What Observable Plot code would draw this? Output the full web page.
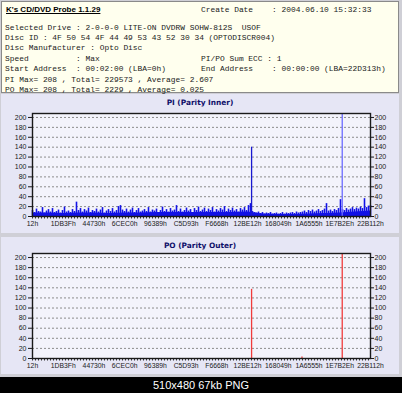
<!DOCTYPE html>
<html><head><meta charset="utf-8">
<script src="https://cdn.jsdelivr.net/npm/d3@7"></script>
<script src="https://cdn.jsdelivr.net/npm/@observablehq/plot@0.6"></script>
<style>
body{margin:0;width:402px;height:393px;background:#000;position:relative;overflow:hidden;font-family:"Liberation Sans",sans-serif}
#win{position:absolute;left:0;top:0;width:402px;height:377px;background:#cfcfd6}
#head{position:absolute;left:1px;top:1px;width:398px;height:92px;background:#ffffee;border:1px solid #8a8a8a;box-sizing:border-box}
.mono{position:absolute;font-family:"Liberation Mono",monospace;font-size:7.9px;line-height:10px;height:10px;white-space:pre;color:#1a1a1a}
#title{position:absolute;left:4px;top:3px;font:bold 8px "Liberation Sans",sans-serif;text-decoration:underline;color:#000}
.ptitle{position:absolute;left:150px;width:100px;text-align:center;font:bold 7.4px "DejaVu Sans",sans-serif;color:#10106a}
.panel{position:absolute;left:1px}
#foot{position:absolute;left:150px;top:377px;width:102px;height:16px;text-align:center;color:#fff;font-size:11px;line-height:16px}
</style></head>
<body>
<div id="win"></div>
<div id="head"><div id="title"></div></div>
<div class="panel" id="pi" style="top:94px"></div>
<div class="panel" id="po" style="top:237px"></div>
<div class="ptitle" id="piTitle" style="top:98px"></div>
<div class="ptitle" id="poTitle" style="top:241px"></div>
<div id="foot"></div>
<script>
// ---- text ----
const appTitle = "K's CD/DVD Probe 1.1.29";
const headerLeft = [
  "Selected Drive : 2-0-0-0 LITE-ON DVDRW SOHW-812S  USOF",
  "Disc ID : 4F 50 54 4F 44 49 53 43 52 30 34 (OPTODISCR004)",
  "Disc Manufacturer : Opto Disc",
  "Speed          : Max",
  "Start Address  : 00:02:00 (LBA=0h)",
  "PI Max= 208 , Total= 229573 , Average= 2.607",
  "PO Max= 208 , Total= 2229 , Average= 0.025"
];
const headerRight = ["", "", "", "PI/PO Sum ECC : 1", "End Address    : 00:00:00 (LBA=22D313h)"];
const createDate = "Create Date    : 2004.06.10 15:32:33";
const piTitle = "PI (Parity Inner)";
const poTitle = "PO (Parity Outer)";
const footer = "510x480 67kb PNG";

// ---- axes ----
const xLabels = ["12h","1DB3Fh","44730h","6CEC0h","96389h","C5D93h","F6668h","12BE12h","168049h","1A6555h","1E7B2Eh","22B112h"];
const yTicks = [0,20,40,60,80,100,120,140,160,180,200];

// ---- data ----
// thin PI error lines
const piNoise = [
  12,8,15,10,9,18,7,11,14,9,16,8,10,13,7,12,19,9,11,8,14,10,
  29,12,16,
  9,14,11,17,8,12,10,15,9,13,18,7,11,14,10,16,9,12,20,22,13,
  10,15,9,13,17,8,12,16,9,11,14,10,18,9,13,11,15,8,12,19,10,14,9,16,11,13,22,10,15,9,12,17,11,14,8,16,12,19,10,
  13,17,10,15,12,18,9,14,11,16,13,20,10,15,12,17,11,14,9,16,13,18,12,22,26,
  10,8,7,9,6,8,5,7,6,8,5,6,7,5,6,8,5,7,6,7,8,6,9,7,8,
  9,11,8,12,10,13,9,11,14,10,12,15,26,11,13,10,14,12,16,34,
  14,12,16,13,15,18,14,17,15,19,16,36,18,21,22
];
// solid PI base level, every half tick interval
const piLevelX = [0,0.5,1,1.5,2,2.5,3,3.5,4,4.5,5,5.5,6,6.5,7,7.5,8,8.5,9,9.5,10,10.5,11];
const piLevel  = [7,7,6,7,7,6,7,7,8,8,8,8,8,8,9,5,4,4,5,6,7,9,11];
const piSpikeX = [7.13, 10.08];
const piSpikeY = [140, 208];
const piSpikeColor = ["#1818d0", "#6a6aff"];
const poSpikeX = [7.13, 10.08, 8.77];
const poSpikeY = [137, 208, 3];

function put(parent, cls, text, left, top) {
  const d = document.createElement("div");
  d.className = cls; d.textContent = text;
  d.style.left = left + "px"; d.style.top = top + "px";
  parent.append(d);
}
const head = document.getElementById("head");
document.getElementById("title").textContent = appTitle;
headerLeft.forEach((t, i) => put(head, "mono", t, 3, 20.5 + i * 10.4));
headerRight.forEach((t, i) => { if (t) put(head, "mono", t, 199, 20.5 + i * 10.4); });
put(head, "mono", createDate, 199, 3);
document.getElementById("piTitle").textContent = piTitle;
document.getElementById("poTitle").textContent = poTitle;
document.getElementById("foot").textContent = footer;

const nN = piNoise.length;
const noiseData = piNoise.map((v, k) => ({x: k * (xLabels.length - 1) / (nN - 1), y: v}));
const levelData = piLevelX.map((x, i) => ({x, y: piLevel[i]}));
const piSpikes = piSpikeX.map((x, i) => ({x, y: piSpikeY[i], c: piSpikeColor[i]}));
const poSpikes = poSpikeX.map((x, i) => ({x, y: poSpikeY[i]}));

function chart(height, marginTop, marginBottom, marks) {
  return Plot.plot({
    width: 398, height, marginLeft: 31, marginRight: 29, marginTop, marginBottom,
    style: {background: "#e6e6f5", fontFamily: "Liberation Sans", fontSize: "7px", color: "#1a1a1a", overflow: "visible"},
    x: {domain: [0, xLabels.length - 1]},
    y: {domain: [0, 208]},
    marks: [
      Plot.frame({fill: "#f3f3fb", stroke: null}),
      Plot.gridY(yTicks.filter(d => d > 0), {stroke: "#8c8c8c", strokeOpacity: 1, strokeDasharray: "2,2"}),
      ...marks,
      Plot.ruleY([0], {stroke: "#333", strokeWidth: 2, strokeDasharray: "1,2", dy: 1}),
      Plot.frame({stroke: "#1a1a1a", strokeWidth: 1.4}),
      Plot.axisY({anchor: "left", ticks: yTicks, tickSize: 4, tickPadding: 2, label: null}),
      Plot.axisY({anchor: "right", ticks: yTicks, tickSize: 3, tickPadding: 1, label: null}),
      Plot.axisX({ticks: d3.range(xLabels.length), tickFormat: i => xLabels[i], tickSize: 0, tickPadding: 5, fontSize: 6.8, label: null})
    ]
  });
}

document.getElementById("pi").append(chart(139, 19, 17, [
  Plot.areaY(levelData, {x: "x", y: "y", fill: "#1212e6", curve: "linear"}),
  Plot.ruleX(noiseData, {x: "x", y1: 0, y2: "y", stroke: "#1212e6", strokeWidth: 1.6}),
  Plot.ruleX(piSpikes, {x: "x", y1: 0, y2: "y", stroke: d => d.c, strokeWidth: 1.3})
]));
document.getElementById("po").append(chart(137, 16, 16, [
  Plot.ruleX(poSpikes, {x: "x", y1: 0, y2: "y", stroke: "#f03c3c", strokeWidth: 1.3})
]));
</script>
</body></html>
